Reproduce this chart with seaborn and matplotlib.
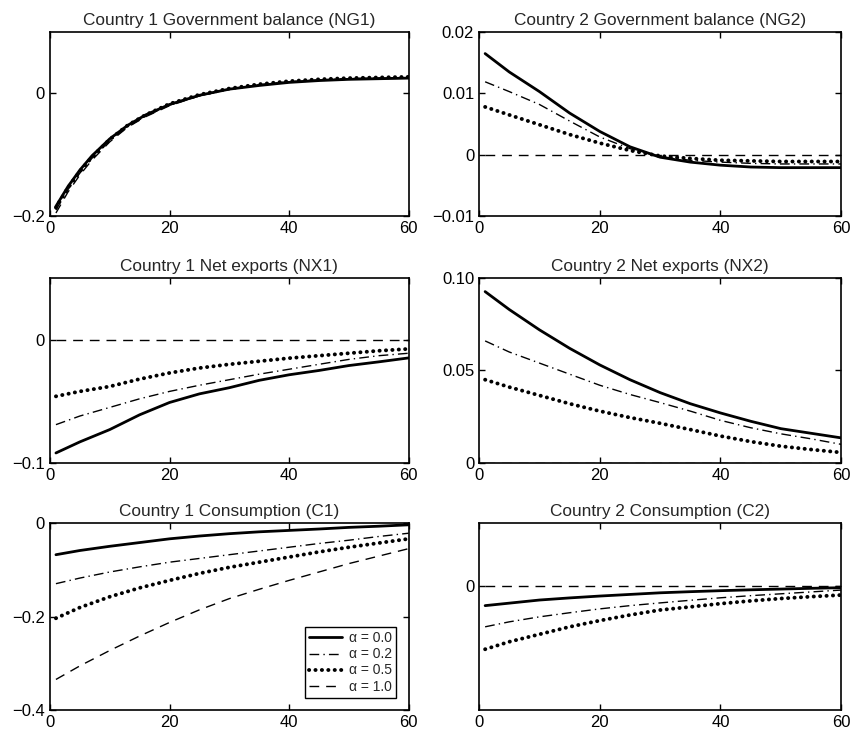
import numpy as np
import pandas as pd
import matplotlib
matplotlib.use("Agg")
import matplotlib.pyplot as plt
import seaborn as sns

# horizon (periods)
periods = [1, 5, 10, 15, 20, 25, 30, 35, 40, 45, 50, 55, 60]
periods_ng1 = [1, 3, 5, 7, 10, 13, 16, 20, 25, 30, 35, 40, 45, 50, 55, 60]
alphas = ["0.0", "0.2", "0.5", "1.0"]
zeros = [0.0] * 13

# Country 1 Government balance (NG1)
ng1_a00 = [-0.184, -0.152, -0.125, -0.102, -0.074, -0.052, -0.035, -0.018, -0.003, 0.007, 0.013, 0.018, 0.021, 0.023, 0.024, 0.025]
ng1_a02 = [-0.190, -0.157, -0.130, -0.106, -0.077, -0.054, -0.037, -0.019, -0.004, 0.007, 0.014, 0.019, 0.022, 0.024, 0.025, 0.025]
ng1_a05 = [-0.186, -0.154, -0.127, -0.104, -0.075, -0.052, -0.035, -0.017, -0.002, 0.008, 0.015, 0.020, 0.023, 0.025, 0.026, 0.027]
ng1_a10 = [-0.195, -0.161, -0.133, -0.109, -0.079, -0.055, -0.038, -0.020, -0.004, 0.007, 0.014, 0.019, 0.022, 0.024, 0.025, 0.026]

# Country 2 Government balance (NG2)
ng2_a00 = [0.0165, 0.0135, 0.0103, 0.0068, 0.0038, 0.0013, -0.0004, -0.0012, -0.0017, -0.0020, -0.0021, -0.0021, -0.0021]
ng2_a02 = [0.0119, 0.0103, 0.0082, 0.0055, 0.0029, 0.0010, -0.0003, -0.0009, -0.0012, -0.0014, -0.0015, -0.0015, -0.0015]
ng2_a05 = [0.0078, 0.0065, 0.0049, 0.0033, 0.0019, 0.0007, -0.0002, -0.0006, -0.0009, -0.0010, -0.0011, -0.0011, -0.0011]
ng2_a10 = zeros

# Country 1 Net exports (NX1)
nx1_a00 = [-0.092, -0.083, -0.073, -0.061, -0.051, -0.044, -0.039, -0.033, -0.0285, -0.025, -0.021, -0.018, -0.0148]
nx1_a02 = [-0.069, -0.062, -0.055, -0.048, -0.042, -0.037, -0.0325, -0.028, -0.024, -0.020, -0.016, -0.013, -0.011]
nx1_a05 = [-0.046, -0.042, -0.038, -0.032, -0.027, -0.023, -0.020, -0.0175, -0.015, -0.013, -0.011, -0.009, -0.0075]
nx1_a10 = zeros

# Country 2 Net exports (NX2)
nx2_a00 = [0.0927, 0.083, 0.072, 0.062, 0.053, 0.045, 0.038, 0.032, 0.027, 0.0225, 0.0185, 0.016, 0.0135]
nx2_a02 = [0.066, 0.060, 0.054, 0.048, 0.042, 0.037, 0.0326, 0.028, 0.023, 0.019, 0.0157, 0.013, 0.010]
nx2_a05 = [0.045, 0.041, 0.0365, 0.032, 0.028, 0.0245, 0.0214, 0.018, 0.0145, 0.0115, 0.009, 0.0072, 0.0056]
nx2_a10 = zeros

# Country 1 Consumption (C1)
c1_a00 = [-0.067, -0.058, -0.049, -0.041, -0.033, -0.027, -0.022, -0.018, -0.015, -0.012, -0.0085, -0.006, -0.003]
c1_a02 = [-0.129, -0.117, -0.104, -0.093, -0.083, -0.075, -0.067, -0.059, -0.051, -0.043, -0.036, -0.028, -0.021]
c1_a05 = [-0.203, -0.180, -0.157, -0.138, -0.122, -0.107, -0.094, -0.083, -0.072, -0.061, -0.051, -0.042, -0.033]
c1_a10 = [-0.334, -0.305, -0.272, -0.241, -0.212, -0.185, -0.161, -0.141, -0.122, -0.104, -0.086, -0.070, -0.054]

# Country 2 Consumption (C2)
c2_a00 = [-0.016, -0.014, -0.0115, -0.0098, -0.0083, -0.007, -0.0057, -0.0048, -0.004, -0.0033, -0.0027, -0.0021, -0.0016]
c2_a02 = [-0.033, -0.029, -0.025, -0.0217, -0.0186, -0.016, -0.0138, -0.0117, -0.0097, -0.008, -0.0065, -0.005, -0.0035]
c2_a05 = [-0.051, -0.045, -0.039, -0.033, -0.028, -0.0235, -0.0195, -0.017, -0.0144, -0.0122, -0.0103, -0.0088, -0.0075]
c2_a10 = zeros

panels = [
    ("Country 1 Government balance (NG1)", periods_ng1, [ng1_a00, ng1_a02, ng1_a05, ng1_a10],
     (-0.2, 0.1), [-0.2, 0], ["\u22120.2", "0"]),
    ("Country 2 Government balance (NG2)", periods, [ng2_a00, ng2_a02, ng2_a05, ng2_a10],
     (-0.01, 0.02), [-0.01, 0, 0.01, 0.02], ["\u22120.01", "0", "0.01", "0.02"]),
    ("Country 1 Net exports (NX1)", periods, [nx1_a00, nx1_a02, nx1_a05, nx1_a10],
     (-0.1, 0.05), [-0.1, 0], ["\u22120.1", "0"]),
    ("Country 2 Net exports (NX2)", periods, [nx2_a00, nx2_a02, nx2_a05, nx2_a10],
     (0, 0.1), [0, 0.05, 0.1], ["0", "0.05", "0.10"]),
    ("Country 1 Consumption (C1)", periods, [c1_a00, c1_a02, c1_a05, c1_a10],
     (-0.4, 0), [-0.4, -0.2, 0], ["\u22120.4", "\u22120.2", "0"]),
    ("Country 2 Consumption (C2)", periods, [c2_a00, c2_a02, c2_a05, c2_a10],
     (-0.1, 0.05), [0], ["0"]),
]

styles = [
    dict(linestyle="-", linewidth=2.0),
    dict(linestyle=(0, (7, 3, 1, 3)), linewidth=1.0),
    dict(linestyle=(0, (0.05, 1.6)), linewidth=2.8, dash_capstyle="round"),
    dict(linestyle=(0, (7, 5)), linewidth=1.0),
]

sns.set_style("ticks")
plt.rcParams["font.family"] = ["Liberation Sans", "DejaVu Sans"]

fig = plt.figure(figsize=(8.54, 7.30), dpi=100)

lefts = [0.0585, 0.561]
widths = [0.420, 0.424]
bottoms = [0.704, 0.366, 0.027]
heights = [0.252, 0.253, 0.256]

for i, (title, tt, series, ylim, yt, ytl) in enumerate(panels):
    r, c = divmod(i, 2)
    ax = fig.add_axes([lefts[c], bottoms[r], widths[c], heights[r]])
    for a, vals, st in zip(alphas, series, styles):
        df = pd.DataFrame({"t": tt, "v": vals})
        sns.lineplot(data=df, x="t", y="v", ax=ax, color="black",
                     label="\u03b1 = " + a, **st)
    ax.set_xlim(0, 60)
    ax.set_ylim(*ylim)
    ax.set_xticks([0, 20, 40, 60])
    ax.set_xticklabels(["0", "20", "40", "60"])
    ax.set_yticks(yt)
    ax.set_yticklabels(ytl)
    ax.set_xlabel("")
    ax.set_ylabel("")
    ax.set_title(title, fontsize=12.4, pad=5)
    ax.tick_params(direction="in", top=True, right=True, length=4,
                   width=1, labelsize=12, color="black", labelcolor="black")
    for sp in ax.spines.values():
        sp.set_visible(True)
        sp.set_color("black")
        sp.set_linewidth(1.2)
    if i == 4:
        leg = ax.legend(loc="lower right", fontsize=10, frameon=True,
                        fancybox=False, handlelength=2.4, borderpad=0.3,
                        labelspacing=0.15, handletextpad=0.5,
                        bbox_to_anchor=(0.985, 0.03))
        leg.get_frame().set_edgecolor("black")
        leg.get_frame().set_linewidth(1.0)
        leg.get_frame().set_alpha(1)
    else:
        lg = ax.get_legend()
        if lg is not None:
            lg.remove()

fig.savefig("out.png", dpi=100)
